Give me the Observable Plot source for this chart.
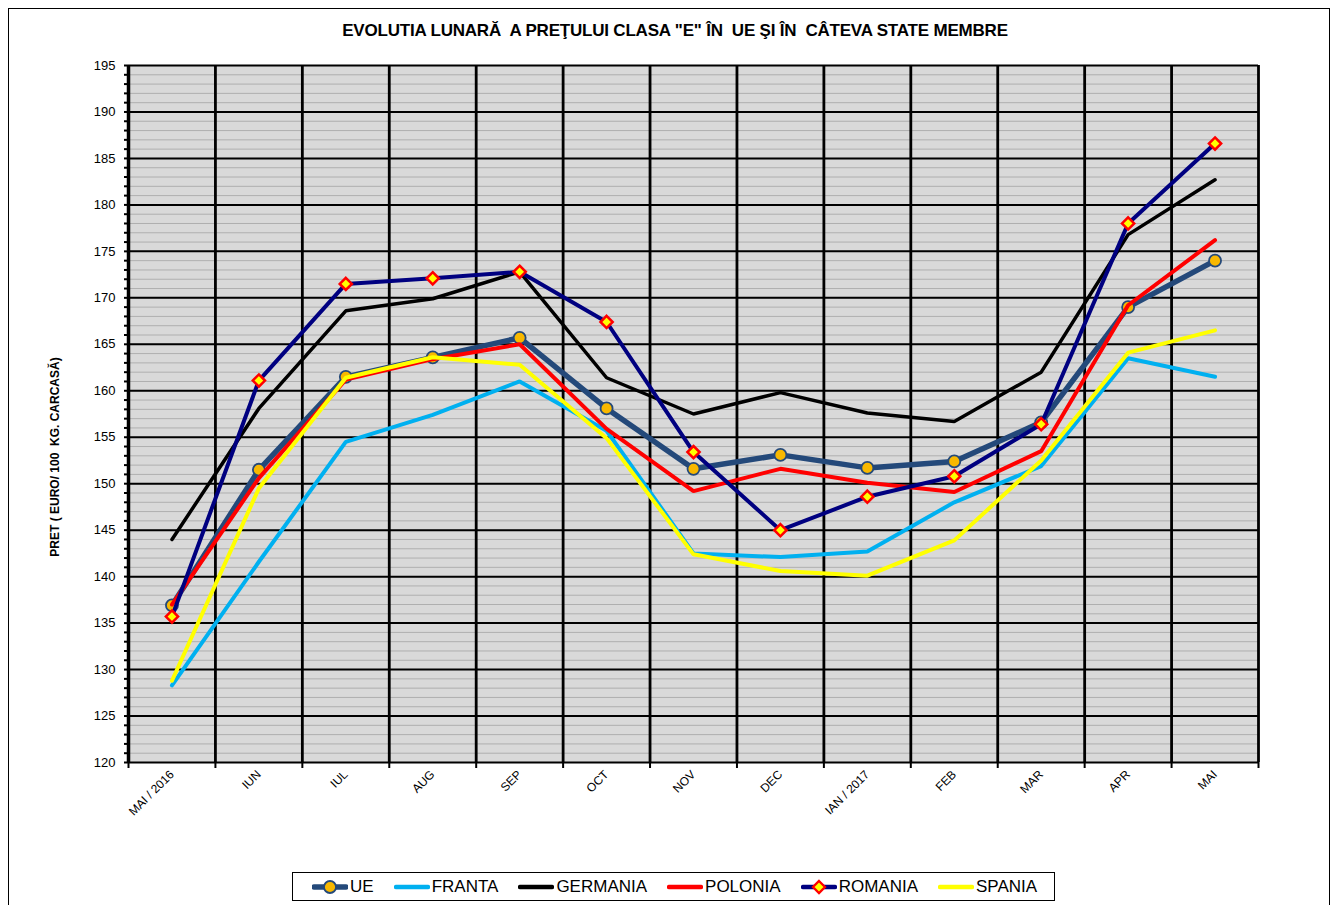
<!DOCTYPE html>
<html>
<head>
<meta charset="utf-8">
<script src="https://cdn.jsdelivr.net/npm/d3@7"></script>
<script src="https://cdn.jsdelivr.net/npm/@observablehq/plot@0.6"></script>
<style>
  html, body { margin: 0; padding: 0; background: #fff; }
  body { width: 1333px; height: 905px; position: relative; overflow: hidden; font-family: "Liberation Sans", Arial, sans-serif; }
  #frame { position: absolute; left: 8px; top: 8px; width: 1322px; height: 905px; border: 1px solid #000; box-sizing: border-box; }
  #title { position: absolute; left: 0; width: 1350px; top: 21px; text-align: center; font-weight: bold; font-size: 17px; letter-spacing: -0.2px; color: #000; }
  #ylabel { position: absolute; left: 55px; top: 457px; transform: translate(-50%, -50%) rotate(-90deg); white-space: nowrap; font-weight: bold; font-size: 12px; color: #000; }
  #chart { position: absolute; left: 0; top: 0; }
  #legend { position: absolute; left: 292px; top: 872px; width: 763px; height: 29px; border: 1px solid #000; box-sizing: border-box; background: #fff; display: flex; align-items: center; padding-left: 19px; font-size: 17px; color: #000; }
  .item { display: flex; align-items: center; margin-right: 20px; }
  .item svg { margin-right: 2px; }
</style>
</head>
<body>
<div id="frame"></div>
<div id="chart"></div>
<div id="title">EVOLUTIA LUNARĂ&nbsp; A PREŢULUI CLASA "E" ÎN&nbsp; UE ŞI ÎN&nbsp; CÂTEVA STATE MEMBRE</div>
<div id="ylabel">PRET ( EURO/ 100&nbsp; KG. CARCASĂ)</div>
<div id="legend"></div>
<script>
const months = ["MAI / 2016", "IUN", "IUL", "AUG", "SEP", "OCT", "NOV", "DEC", "IAN / 2017", "FEB", "MAR", "APR", "MAI"];
const ue       = [136.9, 151.5, 161.5, 163.6, 165.7, 158.1, 151.6, 153.1, 151.7, 152.4, 156.6, 169.0, 174.0];
const franta   = [128.3, 141.6, 154.5, 157.4, 161.0, 155.7, 142.5, 142.1, 142.7, 148.0, 151.9, 163.5, 161.5];
const germania = [144.0, 158.1, 168.6, 169.9, 172.8, 161.4, 157.5, 159.8, 157.6, 156.7, 162.0, 176.8, 182.7];
const polonia  = [137.0, 150.6, 161.2, 163.4, 165.0, 155.9, 149.2, 151.6, 150.1, 149.1, 153.5, 169.2, 176.2];
const romania  = [135.7, 161.1, 171.5, 172.1, 172.8, 167.4, 153.4, 145.0, 148.6, 150.8, 156.4, 178.0, 186.6];
const spania   = [128.8, 149.5, 161.4, 163.6, 162.8, 154.9, 142.4, 140.6, 140.1, 143.9, 152.5, 164.1, 166.5];
const seriesNames = ["UE", "FRANTA", "GERMANIA", "POLONIA", "ROMANIA", "SPANIA"];
const seriesValues = [ue, franta, germania, polonia, romania, spania];
const yMajor = d3.range(120, 196, 5);
const yMinor = d3.range(120, 196, 1);

const styles = {
  UE:       {stroke: "#24497A", width: 5.5},
  FRANTA:   {stroke: "#00B0F0", width: 4},
  GERMANIA: {stroke: "#000000", width: 3.5},
  POLONIA:  {stroke: "#FF0000", width: 4},
  ROMANIA:  {stroke: "#000080", width: 4},
  SPANIA:   {stroke: "#FFFF00", width: 4}
};

const idx = months.map((m, i) => i);
const bounds = d3.range(months.length + 1).map(i => i - 0.5);
const rows = seriesNames.map((s, k) => seriesValues[k].map((v, i) => ({series: s, i, value: v})));

const marks = [
  Plot.frame({fill: "#D9D9D9", stroke: null}),
  Plot.ruleY(yMinor, {stroke: "#AFAFAF", strokeWidth: 1}),
  Plot.ruleY(yMajor, {stroke: "#000", strokeWidth: 2}),
  Plot.ruleX(bounds, {stroke: "#000", strokeWidth: 2.8}),
  Plot.ruleX([bounds[0]], {stroke: "#000", strokeWidth: 3.5}),
  Plot.axisY({ticks: yMinor, tickSize: 4, tickFormat: () => "", label: null, strokeWidth: 2}),
  Plot.axisY({ticks: yMajor, tickSize: 0, tickPadding: 13, fontSize: 13, label: null, tickFormat: d => String(d)}),
  Plot.axisX({ticks: bounds, tickSize: 6, tickFormat: () => "", label: null, strokeWidth: 2}),
  Plot.axisX({ticks: idx, tickSize: 0, tickPadding: 10, tickRotate: -45, fontSize: 12, label: null, tickFormat: i => months[i]})
];
seriesNames.forEach((s, k) => {
  const st = styles[s];
  marks.push(Plot.line(rows[k], {x: "i", y: "value", stroke: st.stroke, strokeWidth: st.width, strokeLinejoin: "miter", strokeLinecap: "round"}));
  if (s === "UE") marks.push(Plot.dot(rows[k], {x: "i", y: "value", r: 6, fill: "#F8B800", stroke: "#24497A", strokeWidth: 1.8}));
  if (s === "ROMANIA") marks.push(Plot.dot(rows[k], {x: "i", y: "value", symbol: "diamond2", r: 5.5, fill: "#FFFF00", stroke: "#FF0000", strokeWidth: 2.5}));
});

const chart = Plot.plot({
  width: 1333, height: 860,
  marginTop: 65, marginBottom: 98, marginLeft: 128, marginRight: 75,
  x: {type: "linear", domain: [-0.5, months.length - 0.5]},
  y: {domain: [120, 195]},
  style: {background: "transparent", fontFamily: "'Liberation Sans', Arial, sans-serif", color: "#000"},
  marks
});
document.getElementById("chart").appendChild(chart);

const legend = document.getElementById("legend");
seriesNames.forEach(s => {
  const st = styles[s];
  const item = document.createElement("div");
  item.className = "item";
  let marker = "";
  if (s === "UE") marker = `<circle cx="18" cy="8" r="6" fill="#F8B800" stroke="#24497A" stroke-width="1.8"/>`;
  if (s === "ROMANIA") marker = `<path d="M18 2 L24 8 L18 14 L12 8 Z" fill="#FFFF00" stroke="#FF0000" stroke-width="2.3"/>`;
  item.innerHTML = `<svg width="36" height="16"><line x1="2" y1="8" x2="34" y2="8" stroke="${st.stroke}" stroke-width="${s === 'UE' ? 5.5 : 4.5}" stroke-linecap="round"/>${marker}</svg><span>${s}</span>`;
  legend.appendChild(item);
});
</script>
</body>
</html>
